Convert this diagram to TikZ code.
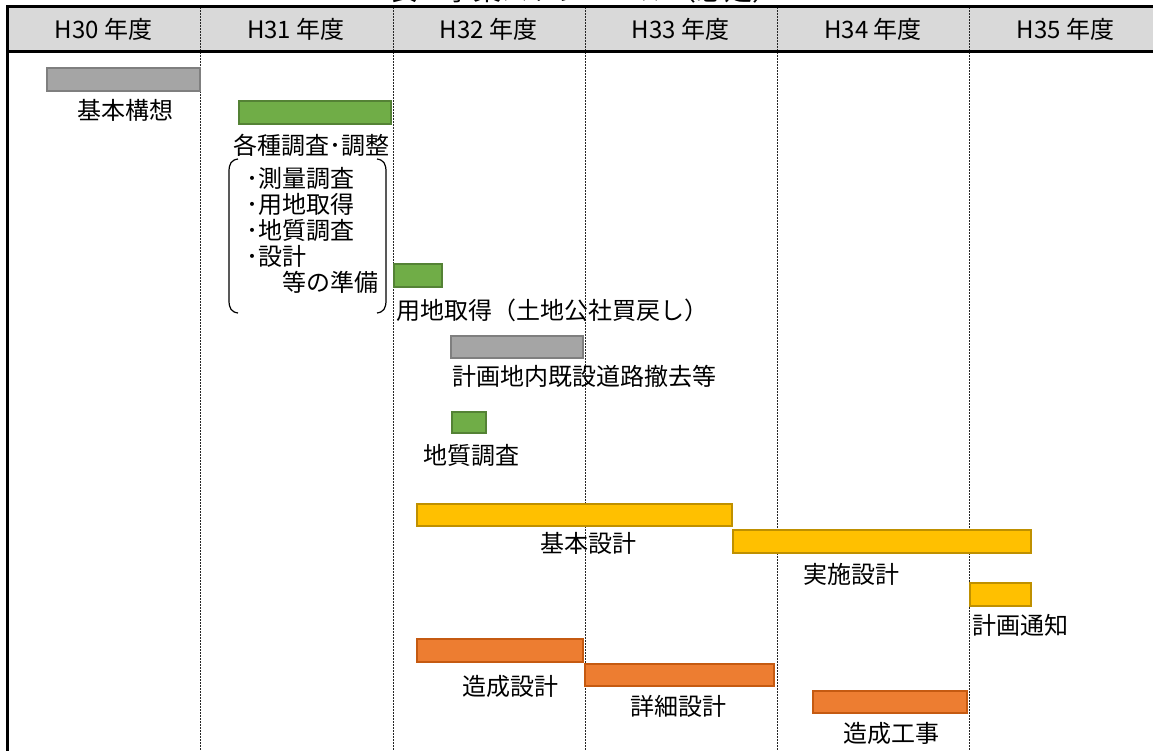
\documentclass[tikz,border=0pt]{standalone}
\usepackage{fontspec}
\setmainfont{Noto Sans CJK JP}
\definecolor{headgray}{HTML}{D9D9D9}
\definecolor{bargray}{HTML}{A5A5A5}
\definecolor{bargraydk}{HTML}{7F7F7F}
\definecolor{bargreen}{HTML}{70AD47}
\definecolor{bargreendk}{HTML}{548235}
\definecolor{baryellow}{HTML}{FFC000}
\definecolor{baryellowdk}{HTML}{BF9000}
\definecolor{barorange}{HTML}{ED7D31}
\definecolor{barorangedk}{HTML}{C55A11}
\tikzset{
  lbl/.style={font=\fontsize{24}{26}\selectfont, inner sep=0pt},
  frame/.style={line width=3pt},
  gridline/.style={line width=1pt, black!85, dash pattern=on 2pt off 1pt},
  bar/.style={line width=2.5pt},
  graybar/.style={bar, draw=bargraydk, fill=bargray},
  greenbar/.style={bar, draw=bargreendk, fill=bargreen},
  yellowbar/.style={bar, draw=baryellowdk, fill=baryellow},
  orangebar/.style={bar, draw=barorangedk, fill=barorange},
  paren/.style={line width=1.2pt}
}
\begin{document}
\begin{tikzpicture}[x=1pt,y=-1pt]
\useasboundingbox (0,0) rectangle (1153,751);
\node[lbl, font=\fontsize{28}{30}\selectfont, anchor=base] (title) at (585,0.5) {表　事業スケジュール（想定）};

\fill[headgray] (7,7) rectangle (1153,52);
\foreach \x in {200,393,585,777,969} {\draw[gridline] (\x,7) -- (\x,751);}
\draw[frame] (1153,7) -- (7,7) -- (7,751);
\draw[frame] (7,52) -- (1153,52);
\foreach \yr [count=\i from 0] in {30,...,35} {\node[lbl] (h\yr) at (103.5+192.4*\i,29) {H\yr{} 年度};}

\draw[graybar] (47,68) rectangle (200,91);
\node[lbl] (kihonkoso) at (125,110) {基本構想};
\draw[greenbar] (239,101) rectangle (391,124);
\node[lbl] (chosa) at (311,145) {各種調査･調整};
\foreach \t [count=\i] in {･測量調査,･用地取得,･地質調査,･設計} {\node[lbl, anchor=west] (prep\i) at (246,152+26*\i) {\t};}
\node[lbl, anchor=west] (prep5) at (282,282) {等の準備};
\draw[paren] (238,159) .. controls (231,160) and (229,164) .. (229,172) -- (229,300) .. controls (229,308) and (231,312) .. (238,313);
\draw[paren] (377,159) .. controls (384,160) and (386,164) .. (386,172) -- (386,300) .. controls (386,308) and (384,312) .. (377,313);

\draw[greenbar] (394,264) rectangle (442,287);
\node[lbl, anchor=west] (yochi) at (396,310) {用地取得（土地公社買戻し）};
\draw[graybar] (451,336) rectangle (583,358);
\node[lbl, anchor=west] (tekkyo) at (452,376) {計画地内既設道路撤去等};
\draw[greenbar] (452,412) rectangle (486,433);
\node[lbl] (chishitsu) at (471,455) {地質調査};

\draw[yellowbar] (417,504) rectangle (732,526);
\node[lbl] (kihonsekkei) at (588,543) {基本設計};
\draw[yellowbar] (733,530) rectangle (1031,553);
\node[lbl] (jisshi) at (851,574) {実施設計};
\draw[yellowbar] (970,583) rectangle (1031,606);
\node[lbl, anchor=west] (tsuchi) at (972,625) {計画通知};

\draw[orangebar] (417,639) rectangle (583,662);
\node[lbl] (zoseisekkei) at (510,686) {造成設計};
\draw[orangebar] (585,664) rectangle (774,686);
\node[lbl] (shosai) at (678,706) {詳細設計};
\draw[orangebar] (813,691) rectangle (967,713);
\node[lbl] (zoseikoji) at (891,733) {造成工事};
\end{tikzpicture}
\end{document}
